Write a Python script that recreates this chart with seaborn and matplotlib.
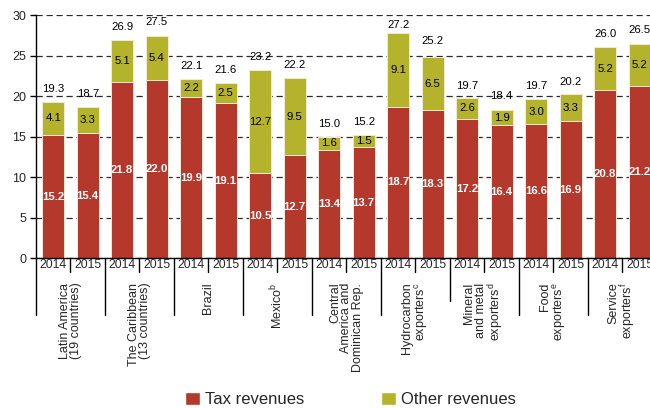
import pandas as pd
import seaborn as sns
import matplotlib.pyplot as plt
import matplotlib.transforms as mtransforms
from matplotlib.patches import Patch

# --- data ---
groups = [
    "Latin America\n(19 countries)",
    "The Caribbean\n(13 countries)",
    "Brazil",
    r"Mexico$^{\mathrm{b}}$",
    "Central\nAmerica and\nDominican Rep.",
    r"Hydrocarbon" + "\n" + r"exporters$^{\mathrm{c}}$",
    "Mineral\nand metal\n" + r"exporters$^{\mathrm{d}}$",
    "Food\n" + r"exporters$^{\mathrm{e}}$",
    "Service\n" + r"exporters$^{\mathrm{f}}$",
]
years = ["2014", "2015"]
tax = [15.2, 15.4, 21.8, 22.0, 19.9, 19.1, 10.5, 12.7, 13.4, 13.7,
       18.7, 18.3, 17.2, 16.4, 16.6, 16.9, 20.8, 21.2]
other = [4.1, 3.3, 5.1, 5.4, 2.2, 2.5, 12.7, 9.5, 1.6, 1.5,
         9.1, 6.5, 2.6, 1.9, 3.0, 3.3, 5.2, 5.2]
totals = [19.3, 18.7, 26.9, 27.5, 22.1, 21.6, 23.2, 22.2, 15.0, 15.2,
          27.2, 25.2, 19.7, 18.4, 19.7, 20.2, 26.0, 26.5]

RED = "#b5382c"
OLIVE = "#b4b32b"
EDGE = "#f3ead8"

sns.set_theme(style="white")
plt.rcParams["font.family"] = ["Liberation Sans", "DejaVu Sans"]
plt.rcParams["mathtext.fontset"] = "custom"
plt.rcParams["mathtext.rm"] = "Liberation Sans"
plt.rcParams["mathtext.it"] = "Liberation Sans:italic"


def build_frame():
    ids = [f"{g}-{y}" for g in range(len(groups)) for y in years]
    df = pd.DataFrame({"bar": ids, "tax": tax, "other": other})
    df["stack"] = df["tax"] + df["other"]
    return df


def draw(df):
    fig = plt.figure(figsize=(6.5, 4.08), dpi=100)
    ax = fig.add_axes([36 / 650, 1 - 258.3 / 408, 614 / 650, 243.3 / 408])

    sns.barplot(data=df, x="bar", y="stack", color=OLIVE, saturation=1,
                width=0.64, edgecolor=EDGE, linewidth=0.7, ax=ax)
    sns.barplot(data=df, x="bar", y="tax", color=RED, saturation=1,
                width=0.64, edgecolor=EDGE, linewidth=0.7, ax=ax)

    # value labels
    for i, (t, o, s) in enumerate(zip(tax, other, totals)):
        ax.text(i, t / 2, f"{t:.1f}", ha="center", va="center",
                color="white", fontweight="bold", fontsize=8.2)
        ax.text(i, t + o / 2, f"{o:.1f}", ha="center", va="center",
                color="black", fontsize=8.2)
        ax.text(i, s + 1.6, f"{s:.1f}", ha="center", va="center",
                color="black", fontsize=8.2)

    ax.set_xlim(-0.5, 17.3)
    ax.set_ylim(0, 30)
    ax.set_yticks(range(0, 31, 5))
    ax.set_xticks([])
    ax.set_xlabel("")
    ax.set_ylabel("")
    ax.yaxis.grid(True, linestyle=(0, (5, 3)), color="#2b2b2b", linewidth=0.9)
    ax.set_axisbelow(True)
    for side in ["top", "right"]:
        ax.spines[side].set_visible(False)
    for side in ["left", "bottom"]:
        ax.spines[side].set_color("black")
        ax.spines[side].set_linewidth(1)
    ax.tick_params(axis="y", direction="out", length=4, width=1,
                   color="black", labelsize=9, pad=3, left=True)

    # category axis: year row, separators and rotated group names
    trans = mtransforms.blended_transform_factory(ax.transData, ax.transAxes)
    for i in range(len(tax)):
        ax.text(i, -0.029, years[i % 2], transform=trans, ha="center",
                va="center", fontsize=8.8, clip_on=False)
    for g, name in enumerate(groups):
        ax.plot([2 * g + 0.5] * 2, [0, -0.056], transform=trans,
                color="black", lw=1, clip_on=False)
        low = -0.176 if g == 6 else -0.233
        ax.plot([2 * g - 0.5] * 2, [0, low], transform=trans,
                color="black", lw=1, clip_on=False)
        ax.text(2 * g + 0.5, -0.10, name, transform=trans, rotation=90,
                ha="center", va="top", multialignment="right",
                fontsize=9, linespacing=0.95, clip_on=False)

    handles = [Patch(facecolor=RED, label="Tax revenues"),
               Patch(facecolor=OLIVE, label="Other revenues")]
    fig.legend(handles=handles, loc="center", bbox_to_anchor=(350 / 650, 0.021),
               ncol=2, frameon=False, fontsize=12, handlelength=0.9,
               handleheight=0.9, handletextpad=0.3, columnspacing=4.6,
               borderpad=0)

    fig.savefig("out.png", dpi=100)


def main():
    df = build_frame()
    draw(df)


if __name__ == "__main__":
    main()
